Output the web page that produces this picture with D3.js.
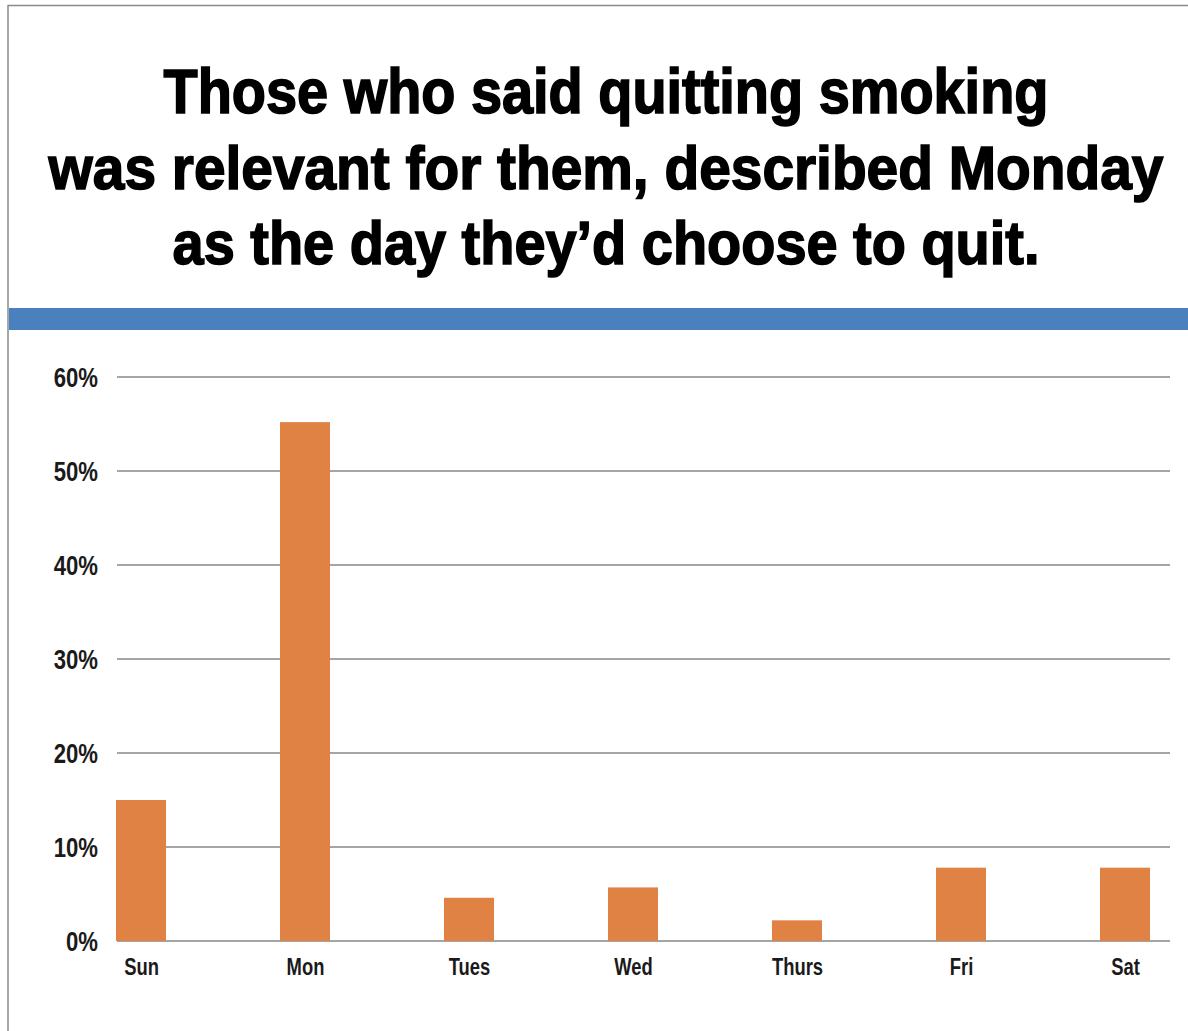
<!DOCTYPE html>
<html lang="en">
<head>
  <title>Quit Day</title>
  <script src="https://cdn.jsdelivr.net/npm/d3@7"></script>
  <style>
    body { margin: 0; background: #fff; }
    text { font-family: "Liberation Sans", Arial, sans-serif; font-weight: bold; }
  </style>
</head>
<body>
  <script>
    // data
    let days = ["Sun", "Mon", "Tues", "Wed", "Thurs", "Fri", "Sat"];
    let shares = [15, 55.2, 4.6, 5.7, 2.2, 7.8, 7.8];
    let yTicks = [0, 10, 20, 30, 40, 50, 60];
    let titleLines = [
      "Those who said quitting smoking",
      "was relevant for them, described Monday",
      "as the day they\u2019d choose to quit."
    ];

    let svgWidth = 1188, svgHeight = 1031;
    let plot = { left: 117, right: 1170, top: 377, bottom: 941 };
    let barW = 50;

    let svg = d3.select("body").append("svg")
      .attr("width", svgWidth)
      .attr("height", svgHeight);

    // frame lines (top + left)
    svg.append("line").attr("x1", 8).attr("x2", svgWidth).attr("y1", 5.5).attr("y2", 5.5)
      .attr("stroke", "#8a8a8a").attr("stroke-width", 1.5);
    svg.append("line").attr("x1", 8).attr("x2", 8).attr("y1", 5).attr("y2", svgHeight)
      .attr("stroke", "#8a8a8a").attr("stroke-width", 1.5);

    // title, squeezed sideways to look condensed
    let titleWidths = [885, 1115, 867];
    svg.append("g").selectAll("text").data(titleLines).join("text")
      .attr("text-anchor", "middle")
      .attr("font-size", 62)
      .attr("fill", "#000")
      .attr("stroke", "#000")
      .attr("stroke-width", 1.6)
      .text(d => d)
      .each(function(d, i) {
        let w = this.getComputedTextLength();
        let s = titleWidths[i] / w;
        d3.select(this).attr("transform", `translate(606, ${113 + i * 75.5}) scale(${s}, 1)`);
      });

    // blue band
    svg.append("rect")
      .attr("x", 9).attr("y", 308)
      .attr("width", svgWidth - 9).attr("height", 22)
      .attr("fill", "#4a80be");

    // scales
    let xScale = d3.scalePoint().domain(days).range([141, 1125]);
    let yScale = d3.scaleLinear().domain([0, 60]).range([plot.bottom, plot.top]);

    // gridlines
    svg.append("g").selectAll("line").data(yTicks).join("line")
      .attr("x1", plot.left).attr("x2", plot.right)
      .attr("y1", d => yScale(d)).attr("y2", d => yScale(d))
      .attr("stroke", "#a5a5a5").attr("stroke-width", 2.2);

    // y axis labels
    let yAxis = d3.axisLeft(yScale).tickValues(yTicks).tickFormat(d => d + "%").tickSize(0).tickPadding(0);
    let yAxisG = svg.append("g").attr("transform", `translate(98, 0)`).call(yAxis);
    yAxisG.select(".domain").remove();
    yAxisG.selectAll("text")
      .attr("font-size", 27)
      .attr("fill", "#1a1a1a")
      .attr("font-family", "'Liberation Sans', sans-serif")
      .attr("font-weight", "bold")
      .attr("dy", "0.36em")
      .attr("transform", "scale(0.82, 1)");

    // bars
    svg.append("g").selectAll("rect").data(days).join("rect")
      .attr("x", d => xScale(d) - barW / 2)
      .attr("y", (d, i) => yScale(shares[i]))
      .attr("width", barW)
      .attr("height", (d, i) => yScale(0) - yScale(shares[i]))
      .attr("fill", "#e08244");

    // x axis labels
    let xAxis = d3.axisBottom(xScale).tickSize(0).tickPadding(0);
    let xAxisG = svg.append("g").attr("transform", `translate(0, 958)`).call(xAxis);
    xAxisG.select(".domain").remove();
    xAxisG.selectAll("text")
      .attr("font-size", 23)
      .attr("fill", "#1a1a1a")
      .attr("font-family", "'Liberation Sans', sans-serif")
      .attr("font-weight", "bold")
      .attr("dy", "0.72em")
      .attr("transform", "scale(0.8, 1)");
  </script>
</body>
</html>
